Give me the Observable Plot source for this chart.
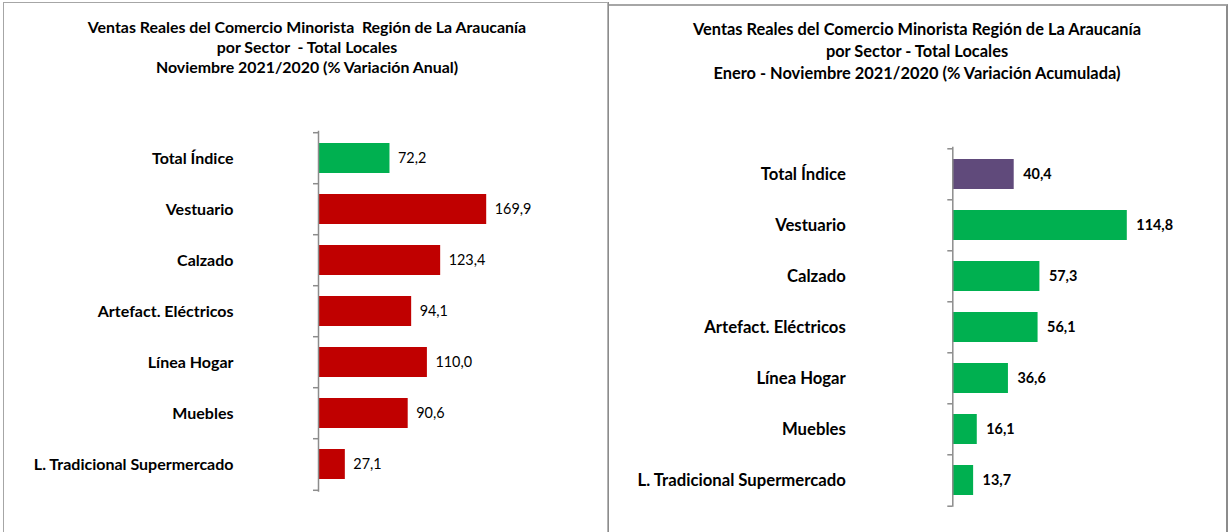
<!DOCTYPE html>
<html>
<head>
<meta charset="utf-8">
<script src="https://cdn.jsdelivr.net/npm/d3@7"></script>
<script src="https://cdn.jsdelivr.net/npm/@observablehq/plot@0.6"></script>
<style>
  html, body { margin: 0; padding: 0; background: #fff; }
  #root { position: relative; width: 1228px; height: 532px; overflow: hidden; background: #fff; font-family: Lato, sans-serif; }
  .panel { position: absolute; box-sizing: border-box; }
  .title { position: absolute; text-align: center; font-weight: bold; color: #000; white-space: pre; }
  .chart { position: absolute; top: 0; }
</style>
</head>
<body>
<div id="root">
  <div class="panel" style="left:3px;top:2px;width:605px;height:560px;border-left:1px solid #a6a6a6;border-top:1px solid #a6a6a6;border-right:1px solid #b4b4b4;box-shadow:1px 0 0 #8c8c8c;"></div>
  <div class="panel" style="left:609px;top:4px;width:619px;height:560px;border-top:2px solid #a6a6a6;border-right:2px solid #8c8c8c;"></div>
  <div class="title" id="t1" style="left:7px;top:17px;width:600px;font-size:15.9px;line-height:20px;"></div>
  <div class="title" id="t2" style="left:617px;top:18px;width:600px;font-size:16.4px;line-height:22px;"></div>
  <div class="chart" id="c1" style="left:0px;"></div>
  <div class="chart" id="c2" style="left:609px;"></div>
</div>
<script>
const categories = ["Total Índice", "Vestuario", "Calzado", "Artefact. Eléctricos", "Línea Hogar", "Muebles", "L. Tradicional Supermercado"];
const anual = [72.2, 169.9, 123.4, 94.1, 110.0, 90.6, 27.1];
const acumulada = [40.4, 114.8, 57.3, 56.1, 36.6, 16.1, 13.7];
const title1 = ["Ventas Reales del Comercio Minorista  Región de La Araucanía", "por Sector  - Total Locales", "Noviembre 2021/2020 (% Variación Anual)"];
const title2 = ["Ventas Reales del Comercio Minorista Región de La Araucanía", "por Sector - Total Locales", "Enero - Noviembre 2021/2020 (% Variación Acumulada)"];

document.getElementById("t1").textContent = title1.join("\n");
document.getElementById("t2").textContent = title2.join("\n");

const fmt = v => v.toFixed(1).replace(".", ",");

function makeChart({values, width, height, axisX, top, bottom, k, xMax, colorFirst, colorRest, labelPad, catSize, valSize, valWeight, valDx}) {
  const data = categories.map((c, i) => ({c, v: values[i], first: i === 0}));
  const marginTop = top, marginBottom = height - bottom;
  const step = (bottom - top) / categories.length;
  const tickLen = 5 / k;
  return Plot.plot({
    width, height,
    marginLeft: axisX, marginRight: width - axisX - xMax * k,
    marginTop, marginBottom,
    style: {background: "none", fontFamily: "Lato, sans-serif", fontSize: catSize + "px", fontWeight: "bold", color: "#000", overflow: "visible"},
    x: {domain: [0, xMax], axis: null},
    y: {domain: categories, paddingInner: 0.41, paddingOuter: 0.205, tickSize: 0, tickPadding: labelPad, label: null},
    marks: [
      Plot.barX(data, {x: "v", y: "c", fill: d => d.first ? colorFirst : colorRest}),
      Plot.ruleX([0], {stroke: "#8c8c8c", strokeWidth: 1.5}),
      Plot.ruleY(categories, {y: d => d, x1: -tickLen, x2: 0, dy: -step / 2, stroke: "#8c8c8c", strokeWidth: 1.5}),
      Plot.ruleY(categories.slice(-1), {y: d => d, x1: -tickLen, x2: 0, dy: step / 2, stroke: "#8c8c8c", strokeWidth: 1.5}),
      Plot.text(data, {x: "v", y: "c", text: d => fmt(d.v), dx: valDx, textAnchor: "start", fontSize: valSize, fontWeight: valWeight, fill: "#000"})
    ]
  });
}

document.getElementById("c1").appendChild(makeChart({
  values: anual, width: 607, height: 532, axisX: 318, top: 130.7, bottom: 491.7, k: 0.99, xMax: 200,
  colorFirst: "#00b050", colorRest: "#c00000", labelPad: 85, catSize: 16, valSize: 14.4, valWeight: "normal", valDx: 8
}));
document.getElementById("c2").appendChild(makeChart({
  values: acumulada, width: 619, height: 532, axisX: 343.3, top: 146.7, bottom: 506.7, k: 1.52, xMax: 150,
  colorFirst: "#604a7b", colorRest: "#00b050", labelPad: 107, catSize: 16.7, valSize: 14.4, valWeight: "bold", valDx: 9
}));
</script>
</body>
</html>
